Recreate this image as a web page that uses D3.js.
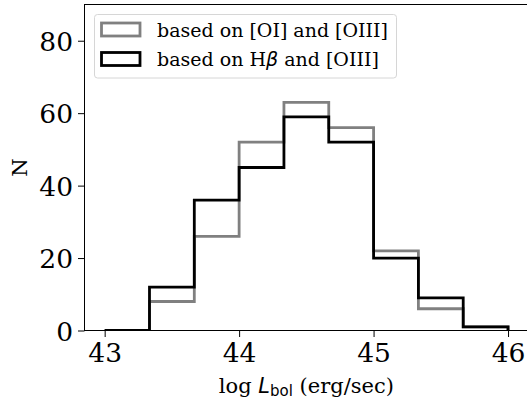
<!DOCTYPE html>
<html>
<head>
<meta charset="utf-8">
<script src="https://cdn.jsdelivr.net/npm/d3@7"></script>
<style>
  html, body { margin: 0; padding: 0; background: #fff; }
  svg { display: block; }
</style>
</head>
<body>
<svg id="chart" width="527" height="402"></svg>
<script>
// ---- data ----
const binEdges = [43, 43 + 1/3, 43 + 2/3, 44, 44 + 1/3, 44 + 2/3, 45, 45 + 1/3, 45 + 2/3, 46];
const countsOI = [0, 8, 26, 52, 63, 56, 22, 6, 1];     // based on [OI] and [OIII]
const countsHb = [0, 12, 36, 45, 59, 52, 20, 9, 1];    // based on Hβ and [OIII]
const xTicks = [43, 44, 45, 46];
const yTicks = [0, 20, 40, 60, 80];
const seriesNames = ["based on [OI] and [OIII]", "based on Hβ and [OIII]"];

// ---- layout ----
const svg = d3.select("#chart");
const L = 84.5, R = 528.2, T = 4.5, B = 330.5;
const x = d3.scaleLinear().domain([42.85, 46.15]).range([L, R]);
const y = d3.scaleLinear().domain([0, 90]).range([B, T]);

const serif = "'DejaVu Serif', serif";
const sans = "'DejaVu Sans', sans-serif";

svg.append("defs").append("clipPath").attr("id", "clip")
  .append("rect").attr("x", L).attr("y", T).attr("width", R - L).attr("height", B - T);

function stepPath(counts) {
  const pts = [[binEdges[0], 0]];
  counts.forEach((c, i) => { pts.push([binEdges[i], c]); pts.push([binEdges[i + 1], c]); });
  pts.push([binEdges[binEdges.length - 1], 0]);
  return d3.line().x(d => x(d[0])).y(d => y(d[1]))(pts);
}

const g = svg.append("g").attr("clip-path", "url(#clip)");
g.append("path").attr("d", stepPath(countsOI)).attr("fill", "none")
  .attr("stroke", "#808080").attr("stroke-width", 2.8).attr("stroke-linejoin", "miter");
g.append("path").attr("d", stepPath(countsHb)).attr("fill", "none")
  .attr("stroke", "#000").attr("stroke-width", 2.8).attr("stroke-linejoin", "miter");

// axes
const xAxis = svg.append("g").attr("transform", `translate(0,${B})`)
  .call(d3.axisBottom(x).tickValues(xTicks).tickFormat(d3.format("d")).tickSize(6.5).tickPadding(6));
const yAxis = svg.append("g").attr("transform", `translate(${L},0)`)
  .call(d3.axisLeft(y).tickValues(yTicks).tickFormat(d3.format("d")).tickSize(6.5).tickPadding(5));
[xAxis, yAxis].forEach(a => {
  a.select(".domain").remove();
  a.selectAll(".tick line").attr("stroke", "#000").attr("stroke-width", 1);
  a.selectAll(".tick text").attr("font-family", serif).attr("font-size", 26.5).attr("fill", "#000");
});
yAxis.selectAll(".tick text").attr("dy", "0.36em");

// spines
svg.append("line").attr("x1", L).attr("x2", L).attr("y1", T).attr("y2", B + 0.5).attr("stroke", "#000").attr("stroke-width", 1);
svg.append("line").attr("x1", L - 0.5).attr("x2", R).attr("y1", B).attr("y2", B).attr("stroke", "#000").attr("stroke-width", 1);
svg.append("line").attr("x1", L - 0.5).attr("x2", R).attr("y1", T).attr("y2", T).attr("stroke", "#000").attr("stroke-width", 1);

// axis labels
const xl = svg.append("text").attr("x", (L + R) / 2).attr("y", 393).attr("text-anchor", "middle")
  .attr("font-family", serif).attr("font-size", 21).attr("fill", "#000");
xl.append("tspan").text("log ");
xl.append("tspan").attr("font-family", sans).attr("font-style", "italic").text("L");
xl.append("tspan").attr("font-family", sans).attr("font-size", 15).attr("dy", 3).text("bol");
xl.append("tspan").attr("dy", -3).text(" (erg/sec)");

svg.append("text").attr("transform", `translate(27,${(T + B) / 2}) rotate(-90)`)
  .attr("text-anchor", "middle").attr("font-family", serif).attr("font-size", 21).attr("fill", "#000").text("N");

// legend
const lg = svg.append("g");
lg.append("rect").attr("x", 94.5).attr("y", 14.5).attr("width", 302).attr("height", 63.5)
  .attr("rx", 3).attr("fill", "#fff").attr("fill-opacity", 0.8).attr("stroke", "#d6d6d6").attr("stroke-width", 1);
const legColors = ["#808080", "#000"];
seriesNames.forEach((name, i) => {
  const yy = 22 + i * 29.5;
  lg.append("rect").attr("x", 101.5).attr("y", yy + 1).attr("width", 38.5).attr("height", 13)
    .attr("fill", "none").attr("stroke", legColors[i]).attr("stroke-width", 2.8);
  const t = lg.append("text").attr("x", 157).attr("y", yy + 14.5).attr("font-family", serif)
    .attr("font-size", 19).attr("fill", "#000");
  if (name.includes("β")) {
    const parts = name.split("β");
    t.append("tspan").text(parts[0]);
    t.append("tspan").attr("font-family", sans).attr("font-style", "italic").text("β");
    t.append("tspan").text(parts[1]);
  } else {
    t.text(name);
  }
});
</script>
</body>
</html>
